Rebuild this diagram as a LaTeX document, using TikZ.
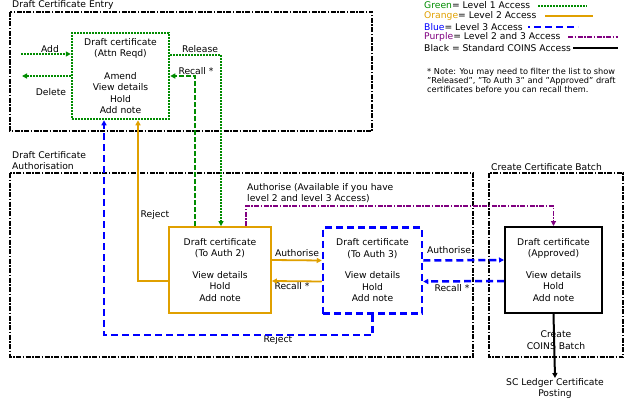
\documentclass[tikz,border=0pt]{standalone}
\usepackage{fontspec}
\setmainfont{DejaVu Sans}
\usetikzlibrary{arrows.meta}
\definecolor{lvlgreen}{RGB}{0,140,0}
\definecolor{lvlorange}{RGB}{224,160,0}
\definecolor{lvlblue}{RGB}{0,0,255}
\definecolor{lvlpurple}{RGB}{128,0,128}

\begin{document}
\begin{tikzpicture}[x=1pt, y=-1pt, font=\fontsize{9.2}{11.5}\selectfont,
  cert box/.style={draw, text=black, minimum width=97pt, minimum height=86pt, inner sep=0pt, align=center},
  group frame/.style={draw, line width=2pt, dash pattern=on 5pt off 1.5pt on 1.5pt off 1.5pt},
  title/.style={anchor=west, inner sep=0pt, align=left},
  lbl/.style={inner sep=0pt, align=center},
  tip/.style={-{Triangle[length=5pt,width=5pt]}},
  lvl one/.style={lvlgreen, line width=2.5pt, dash pattern=on 2pt off 1pt},
  lvl one dash/.style={lvlgreen, line width=1.5pt, dash pattern=on 5pt off 2pt},
  lvl two/.style={lvlorange, line width=1.8pt},
  lvl three/.style={lvlblue, line width=2.5pt, dash pattern=on 7pt off 4pt},
  lvl both/.style={lvlpurple, line width=1.5pt, dash pattern=on 5pt off 1.5pt on 1.5pt off 1.5pt},
  std/.style={black, line width=2pt}]
\useasboundingbox (0,0) rectangle (634,412);

\draw[group frame] (10,12) rectangle (372,131);
\draw[group frame] (10,173) rectangle (473,357);
\draw[group frame] (489,173) rectangle (623,357);
\node[title] (entry title) at (12,5) {Draft Certificate Entry};
\node[title, anchor=north west] (auth title) at (12,151) {Draft Certificate\\Authorisation};
\node[title] (batch title) at (491,167) {Create Certificate Batch};

\node[lvl one, cert box] (attn) at (120.5,76) {Draft certificate\\(Attn Reqd)\\[11pt]Amend\\View details\\Hold\\Add note};
\node[lvl two, cert box, minimum width=102pt] (auth2) at (220,270) {Draft certificate\\(To Auth 2)\\[10pt]View details\\Hold\\Add note};
\node[lvl three, cert box, minimum width=99pt] (auth3) at (372.5,270.5) {Draft certificate\\(To Auth 3)\\[10pt]View details\\Hold\\Add note};
\node[std, cert box] (appr) at (553.5,270) {Draft certificate\\(Approved)\\[10pt]View details\\Hold\\Add note};
\node[lbl, anchor=north] (posting) at (555,378) {SC Ledger Certificate\\Posting};

\coordinate (add in) at (21,54);
\coordinate (del out) at (22,76);
\coordinate (rel turn) at (221,55);
\coordinate (rec turn) at (195,76);
\coordinate (rej turn) at (138,281);
\coordinate (back turn) at (104,335);
\coordinate (both turn) at (246,206);

\node[lbl] (add lbl) at (50,49) {Add};
\node[lbl] (del lbl) at (51,92) {Delete};
\node[lbl] (rel lbl) at (200,49) {Release};
\node[lbl] (rec lbl) at (196,71) {Recall *};
\node[lbl] (rej lbl) at (155,215) {Reject};
\node[title, anchor=north west] (both lbl) at (247,183) {Authorise (Available if you have\\level 2 and level 3 Access)};
\node[lbl] (up lbl) at (297,253) {Authorise};
\node[lbl] (down lbl) at (292,286) {Recall *};
\node[lbl] (back lbl) at (278,340) {Reject};
\node[lbl] (fwd lbl) at (449,250) {Authorise};
\node[lbl] (ret lbl) at (452,288) {Recall *};
\node[lbl] (coins lbl) at (556,340) {Create\\COINS Batch};

\draw[lvl one, tip] (add in) -- (add in -| attn.west);
\draw[lvl one, tip] (attn.west) -- (del out);
\draw[lvl one, tip] (rel turn -| attn.east) -- (rel turn) -- (rel turn |- auth2.north);
\draw[lvl one dash, tip] (rec turn |- auth2.north) -- (rec turn) -- (attn.east);
\draw[lvl two, tip] (rej turn -| auth2.west) -- (rej turn) -- (rej turn |- attn.south);
\draw[lvl three, tip] (auth3.south) -- (auth3.south |- back turn) -- (back turn) -- (back turn |- attn.south);
\draw[lvl both, tip] (both turn |- auth2.north) -- (both turn) -- (both turn -| appr.north) -- (appr.north);
\draw[lvl two, tip] ([yshift=10pt]auth2.east) -- ([yshift=10pt]auth3.west);
\draw[lvl two, tip] ([yshift=-11pt]auth3.west) -- ([yshift=-11pt]auth2.east);
\draw[lvl three, tip] ([yshift=10pt]auth3.east) -- ([yshift=10pt]appr.west);
\draw[lvl three, tip] ([yshift=-11pt]appr.west) -- ([yshift=-11pt]auth3.east);
\draw[std, tip] (appr.south) -- (posting.north);

\node[title] (key green) at (424,5) {\textcolor{lvlgreen}{Green}= Level 1 Access};
\node[title] (key orange) at (424,16) {\textcolor{lvlorange}{Orange}= Level 2 Access};
\node[title] (key blue) at (424,27) {\textcolor{lvlblue}{Blue}= Level 3 Access};
\node[title] (key purple) at (424,37) {\textcolor{lvlpurple}{Purple}= Level 2 and 3 Access};
\node[title] (key black) at (424,48) {Black = Standard COINS Access};
\draw[lvl one] (538,6) -- (587,6);
\draw[lvl two] (545,16) -- (593,16);
\draw[lvl three, dash phase=5pt] (528,27) -- (578,27);
\draw[lvl both] (568,37) -- (618,37);
\draw[std] (573,48) -- (618,48);
\node[title, anchor=north west, font=\fontsize{8.2}{9}\selectfont] (note) at (427,68) {* Note: You may need to filter the list to show\\"Released", "To Auth 3" and "Approved" draft\\certificates before you can recall them.};
\end{tikzpicture}
\end{document}
